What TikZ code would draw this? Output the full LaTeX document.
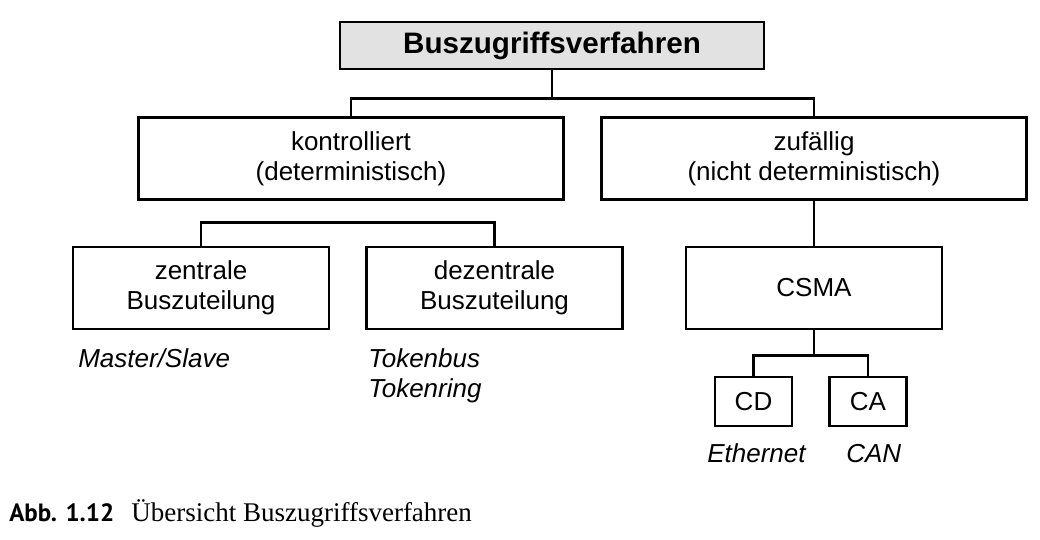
\documentclass[tikz,border=0pt]{standalone}
\usepackage{fontspec}
\setmainfont{Liberation Sans}
\newfontfamily\capserif{Liberation Serif}
\newfontfamily\capsans{PT Sans}
\definecolor{boxgray}{HTML}{E2E2E2}
\begin{document}
\begin{tikzpicture}[x=1pt, y=-1pt, line width=2.6pt,
  box/.style={draw, align=center, inner sep=0pt, minimum height=82pt, minimum width=256pt, font=\fontsize{26}{30}\selectfont},
  wide/.style={box, minimum width=425pt},
  small/.style={box, minimum width=77pt, minimum height=49pt},
  example/.style={anchor=base west, inner sep=0pt, font=\fontsize{26}{30}\selectfont\itshape}]
\useasboundingbox (0,0) rectangle (1040,539);
\node[box, fill=boxgray, minimum width=424pt, minimum height=47pt, font=\fontsize{29.6}{32}\selectfont\bfseries] (top) at (552,45.5) {Buszugriffsverfahren};
\node[wide] (kontr) at (351,158.5) {kontrolliert\\(deterministisch)};
\node[wide] (zuf) at (814,158.5) {zufällig\\(nicht deterministisch)};
\node[box] (zentral) at (201,288) {zentrale\\Buszuteilung};
\node[box] (dezentral) at (494.5,288) {dezentrale\\Buszuteilung};
\node[box] (csma) at (814,288) {CSMA};
\node[small] (cd) at (753.5,401.5) {CD};
\node[small] (ca) at (868,401.5) {CA};
\draw (top.south) -- ++(0,28) coordinate (split);
\draw (kontr.north) |- (split) -| (zuf.north);
\draw (zentral.north) -- ++(0,-23) -| (dezentral.north);
\draw (zuf.south) -- (csma.north);
\draw (csma.south) -- ++(0,25) coordinate (fork);
\draw (cd.north) |- (fork) -| (ca.north);
\node[example] (ms) at (77,367) {Master/Slave};
\node[example] (tbus) at (367,367) {Tokenbus};
\node[example] (tring) at (367,397) {Tokenring};
\node[example] (eth) at (706,462) {Ethernet};
\node[example] (can) at (845,462) {CAN};
\node[anchor=base west, inner sep=0pt, font=\capsans\bfseries\fontsize{25}{30}\selectfont] (abb) at (8,521) {Abb. 1.12};
\node[anchor=base west, inner sep=0pt, font=\capserif\fontsize{27}{30}\selectfont] (caption) at (130,521) {Übersicht Buszugriffsverfahren};
\end{tikzpicture}
\end{document}
